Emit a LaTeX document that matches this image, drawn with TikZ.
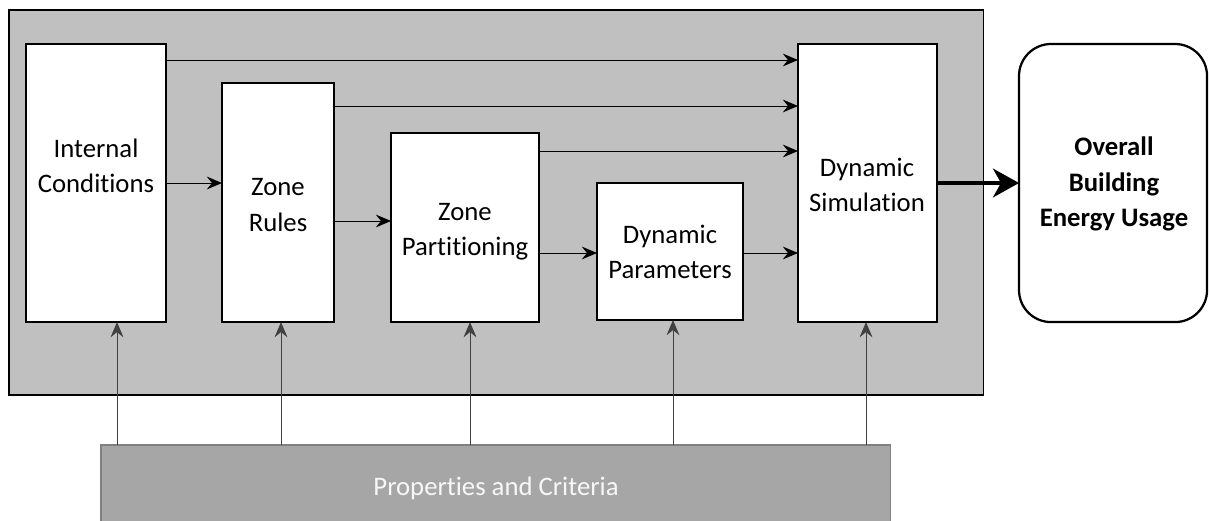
\documentclass[tikz,border=0pt]{standalone}
\usepackage{fontspec}
\setmainfont[Ligatures=NoCommon]{Carlito}
\usetikzlibrary{arrows.meta}
\definecolor{panel}{HTML}{C0C0C0}
\definecolor{propfill}{HTML}{A6A6A6}
\definecolor{propline}{HTML}{808080}
\begin{document}
\begin{tikzpicture}[x=0.025cm,y=-0.025cm,
  whitebox/.style={draw=black,line width=1.1pt,fill=white,inner sep=0pt,outer sep=0pt,anchor=north west},
  lbl/.style={align=center,font=\fontsize{19}{25}\selectfont,inner sep=0pt},
  arr/.style={line width=0.6pt,-{Stealth[length=0.38cm,width=0.32cm,inset=0.13cm]}},
  varr/.style={draw=black!75,line width=0.6pt,-{Stealth[length=0.38cm,width=0.32cm,inset=0.13cm]}},
  thick arr/.style={line width=2.8pt,-{Stealth[length=0.65cm,width=0.72cm,inset=0.2cm]}}]
\useasboundingbox (0,0) rectangle (1210,520);
% panel
\node[draw=black,line width=1pt,fill=panel,inner sep=0pt,outer sep=0pt,anchor=north west,
  minimum width=24.35cm,minimum height=9.625cm] (panel) at (9,10) {};
% properties
\node[draw=propline,line width=0.8pt,fill=propfill,inner sep=0pt,outer sep=0pt,anchor=north west,
  minimum width=19.725cm,minimum height=2.5cm] (props) at (101,445) {};
\node[lbl,text=white!97!black] (propstxt) at (496,488) {Properties and Criteria};
% boxes
\node[whitebox,minimum width=3.5cm,minimum height=6.95cm] (ic) at (26,44) {};
\node[whitebox,minimum width=2.8cm,minimum height=5.975cm] (zr) at (222,83) {};
\node[whitebox,minimum width=3.7cm,minimum height=4.725cm] (zp) at (391,133) {};
\node[whitebox,minimum width=3.65cm,minimum height=3.425cm] (dp) at (597,183) {};
\node[whitebox,minimum width=3.475cm,minimum height=6.95cm] (ds) at (798,44) {};
\node[draw=black,line width=1.6pt,fill=white,rounded corners=0.8cm,inner sep=0pt,outer sep=0pt,
  anchor=north west,minimum width=4.7cm,minimum height=6.95cm] (ov) at (1019,44) {};
% labels
\node[lbl] (ictxt) at (96,166) {Internal\\Conditions};
\node[lbl] (zrtxt) at (278,205) {Zone\\Rules};
\node[lbl] (zptxt) at (465,232) {Zone\\Partitioning};
\node[lbl] (dptxt) at (670,252) {Dynamic\\Parameters};
\node[lbl] (dstxt) at (867,185) {Dynamic\\Simulation};
\node[lbl,font=\fontsize{19}{25}\selectfont\bfseries] (ovtxt) at (1114,184) {Overall\\Building\\Energy Usage};
% helper coordinates
\coordinate (h60) at (0,60);
\coordinate (h106) at (0,106);
\coordinate (h151) at (0,151);
\coordinate (h183) at (0,183);
\coordinate (h221) at (0,221);
\coordinate (h253) at (0,253);
\coordinate (v117) at (117,0);
\coordinate (v281) at (281,0);
\coordinate (v470) at (470,0);
\coordinate (v673) at (673,0);
\coordinate (v866) at (866,0);
% horizontal arrows
\draw[arr] (ic.east |- h60) -- (ds.west |- h60);
\draw[arr] (zr.east |- h106) -- (ds.west |- h106);
\draw[arr] (zp.east |- h151) -- (ds.west |- h151);
\draw[arr] (dp.east |- h253) -- (ds.west |- h253);
\draw[arr] (ic.east |- h183) -- (zr.west |- h183);
\draw[arr] (zr.east |- h221) -- (zp.west |- h221);
\draw[arr] (zp.east |- h253) -- (dp.west |- h253);
\draw[thick arr] (ds.east |- h183) -- (ov.west |- h183);
% vertical arrows
\draw[varr] (props.north -| v117) -- (ic.south -| v117);
\draw[varr] (props.north -| v281) -- (zr.south -| v281);
\draw[varr] (props.north -| v470) -- (zp.south -| v470);
\draw[varr] (props.north -| v673) -- (dp.south -| v673);
\draw[varr] (props.north -| v866) -- (ds.south -| v866);
\end{tikzpicture}
\end{document}
